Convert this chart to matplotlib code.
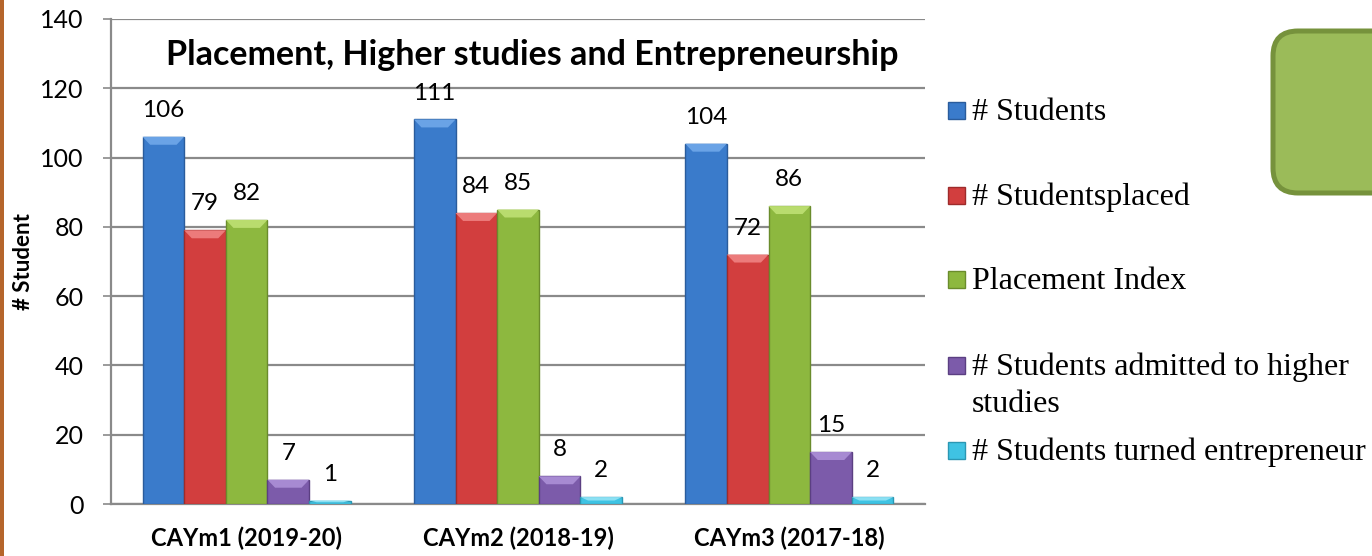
import matplotlib
matplotlib.use("Agg")
import matplotlib.pyplot as plt
from matplotlib.patches import Polygon, Rectangle, FancyBboxPatch
from matplotlib.transforms import IdentityTransform
import numpy as np

# data
years = ["CAYm1 (2019-20)", "CAYm2 (2018-19)", "CAYm3 (2017-18)"]
series_names = ["# Students", "# Studentsplaced", "Placement Index",
                "# Students admitted to higher\nstudies", "# Students turned entrepreneur"]
students = [106, 111, 104]
placed = [79, 84, 72]
placement_index = [82, 85, 86]
higher_studies = [7, 8, 15]
entrepreneurs = [1, 2, 2]

values = [students, placed, placement_index, higher_studies, entrepreneurs]
colors = ["#3A7BCB", "#D23E3E", "#8DB83F", "#7C5BAA", "#3FC3E3"]
edges = ["#2A5C9C", "#9E2B2B", "#6A8C2C", "#5B3F82", "#2B97B3"]
tops = ["#6AA3E6", "#EC7B7B", "#B9DC6E", "#A78AD2", "#8BE0F3"]

W, H = 1372, 556
fig = plt.figure(figsize=(W / 100, H / 100), dpi=100)
ax = fig.add_axes([111 / W, (H - 504) / H, 814 / W, 485 / H])

x = np.arange(len(years))
bw = 0.1535
for i, vals in enumerate(values):
    offs = (i - 2) * bw
    bars = ax.bar(x + offs, vals, bw, color=colors[i], edgecolor=edges[i],
                  linewidth=1.0, zorder=3)
    for b, v in zip(bars, vals):
        bx, bwid, bh = b.get_x(), b.get_width(), b.get_height()
        dx = 0.028
        dy = min(2.3, bh * 0.5)
        bevel = Polygon([(bx, bh), (bx + bwid, bh), (bx + bwid - dx, bh - dy),
                         (bx + dx, bh - dy)], closed=True, facecolor=tops[i],
                        edgecolor="none", zorder=4)
        ax.add_patch(bevel)
        ax.annotate(str(v), (b.get_x() + bwid / 2, bh), xytext=(0, 19),
                    textcoords="offset points", ha="center", va="center",
                    fontsize=17.5, family="Lato", color="black")

ax.set_ylim(0, 140)
ax.set_xlim(-0.5, 2.5)
ax.set_yticks(range(0, 141, 20))
ax.set_xticks(x)
ax.set_xticklabels(years, fontsize=17, fontweight="bold", family="Lato")
ax.tick_params(axis="x", length=0, pad=16)
ax.tick_params(axis="y", length=6, width=1.2, color="#8a8a8a", pad=13.5,
               labelsize=18)
for lab in ax.get_yticklabels():
    lab.set_family("Lato")
ax.grid(axis="y", color="#8a8a8a", linewidth=1.6, zorder=0)
ax.set_axisbelow(True)
for s in ["top", "right"]:
    ax.spines[s].set_visible(False)
for s in ["left", "bottom"]:
    ax.spines[s].set_color("#8a8a8a")
    ax.spines[s].set_linewidth(1.6)

ax.set_ylabel("# Student", fontsize=16, fontweight="bold", family="Lato", va="center")
ax.yaxis.set_label_coords(-0.108, 0.5)

ax.text(0.517, 0.926, "Placement, Higher studies and Entrepreneurship",
        transform=ax.transAxes, ha="center", va="center", fontsize=24.5,
        fontweight="bold", family="Lato")

# legend drawn by hand (first line of the wrapped label carries the marker)
marker_y = [110, 195, 279, 365, 450]
for i, name in enumerate(series_names):
    my = marker_y[i]
    fig.patches.append(Rectangle((948, H - my - 8.5), 17, 17, transform=IdentityTransform(),
                                 facecolor=colors[i], edgecolor=edges[i], linewidth=1))
    lines = name.split("\n")
    for j, line in enumerate(lines):
        fig.text(972 / W, 1 - (my + 10 + 37 * j) / H, line, ha="left", va="baseline",
                 fontsize=23, family="Liberation Serif")

# decorative green box and brown page edge
fig.patches.append(FancyBboxPatch((1273, H - 193), 140, 162,
                                  boxstyle="round,pad=0,rounding_size=25",
                                  transform=IdentityTransform(), facecolor="#9BBB59",
                                  edgecolor="#76923C", linewidth=3.6))
fig.patches.append(Rectangle((0, 0), 3.5, H, transform=IdentityTransform(),
                             facecolor="#B5652B", edgecolor="none"))

fig.savefig("out.png", dpi=100)
